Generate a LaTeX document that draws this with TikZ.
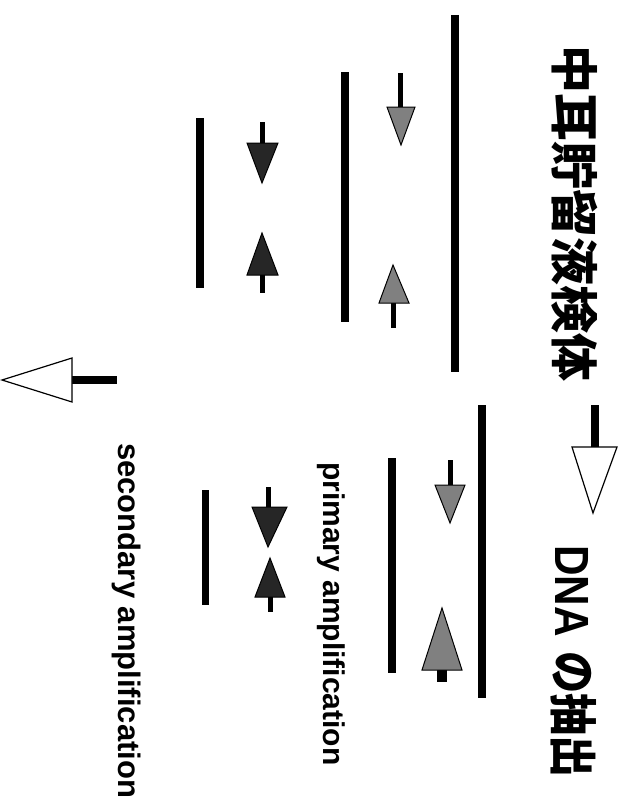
\documentclass[tikz,border=0pt]{standalone}
\usepackage{fontspec}
\setmainfont{Liberation Sans}
\newfontfamily\cjk{Noto Sans CJK JP}
\begin{document}
\begin{tikzpicture}[x=1pt,y=1pt,
  strand/.style={line width=8pt},
  stem/.style={line width=5pt},
  lightprimer/.style={draw=black,line width=1pt,fill=black!50,line join=miter},
  darkprimer/.style={draw=black,line width=1pt,fill=black!85,line join=miter},
  bigarrow/.style={draw=black,line width=1.2pt,fill=white},
  vlabel/.style={rotate=-90,inner sep=0pt,anchor=base west}]
\useasboundingbox (0,0) rectangle (621,-808);

% headings
\node[vlabel,font=\cjk\bfseries\fontsize{48}{48}\selectfont] (title) at (556,-45) {中耳貯留液検体};
\node[vlabel,font=\bfseries\fontsize{48}{48}\selectfont] (dna) at (555,-545)
  {\scalebox{0.88}[1]{DNA\hspace{0.35em}{\cjk の抽出}}};
\node[vlabel,font=\bfseries\fontsize{30}{30}\selectfont] (prim) at (323,-462) {primary amplification};
\node[vlabel,font=\bfseries\fontsize{31}{31}\selectfont] (sec) at (118,-443) {secondary amplification};

% open arrow: extraction step
\fill (591,-405) rectangle (599,-448);
\draw[bigarrow] (572,-447) -- (617,-447) -- (593,-513) -- cycle;

% open arrow: towards second round
\fill (72,-376) rectangle (117,-384);
\draw[bigarrow] (72,-358) -- (72,-402) -- (2,-380) -- cycle;

% template strands
\draw[strand] (455,-15) -- (455,-372);
\draw[strand] (345,-72) -- (345,-322);
\draw[strand] (200,-118) -- (200,-288);
\draw[strand] (482,-405) -- (482,-698);
\draw[strand] (392,-458) -- (392,-673);
\draw[strand,line width=7pt] (205,-490) -- (205,-605);

% outer primers
\draw[stem] (400,-73) -- (400,-108);
\draw[lightprimer] (387,-107) -- (415,-107) -- (401,-145) -- cycle;
\draw[stem] (393,-302) -- (393,-328);
\draw[lightprimer] (379,-303) -- (409,-303) -- (393,-265) -- cycle;

% inner primers
\draw[stem] (262,-122) -- (262,-144);
\draw[darkprimer] (247,-143) -- (278,-143) -- (262,-183) -- cycle;
\draw[stem] (262,-274) -- (262,-293);
\draw[darkprimer] (247,-275) -- (278,-275) -- (262,-233) -- cycle;

% primary amplification primers
\draw[stem] (450,-460) -- (450,-486);
\draw[lightprimer] (435,-485) -- (465,-485) -- (450,-523) -- cycle;
\draw[line width=10pt] (442,-669) -- (442,-682);
\draw[lightprimer] (422,-670) -- (462,-670) -- (442,-608) -- cycle;

% secondary amplification primers
\draw[stem] (268,-487) -- (268,-508);
\draw[darkprimer] (252,-507) -- (287,-507) -- (268,-547) -- cycle;
\draw[stem] (270,-596) -- (270,-612);
\draw[darkprimer] (255,-597) -- (285,-597) -- (270,-558) -- cycle;
\end{tikzpicture}
\end{document}
